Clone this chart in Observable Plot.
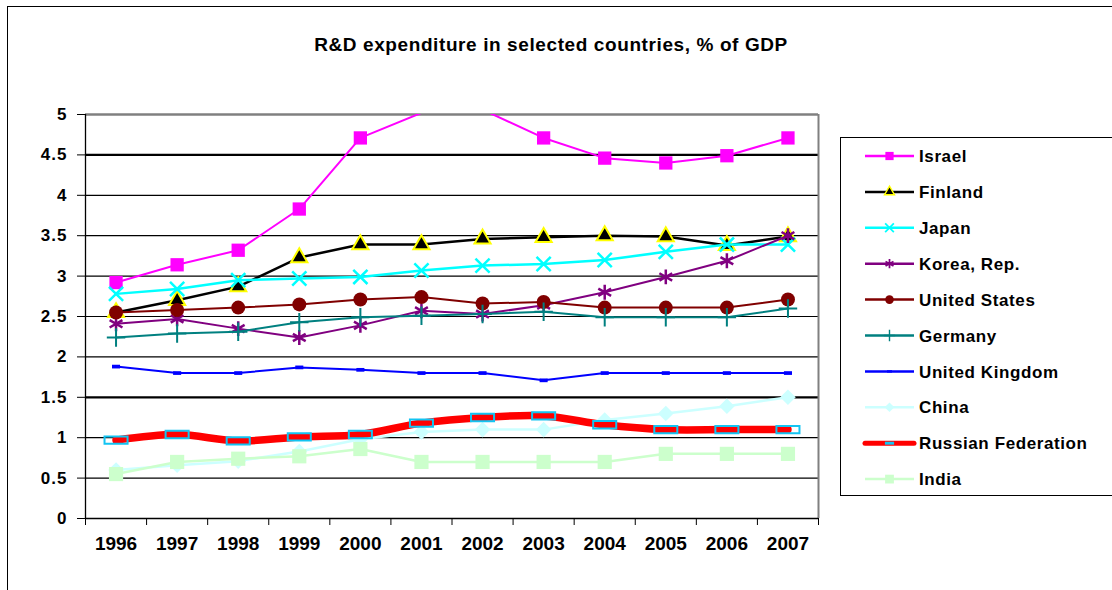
<!DOCTYPE html>
<html>
<head>
<meta charset="utf-8">
<script src="https://cdn.jsdelivr.net/npm/d3@7"></script>
<script src="https://cdn.jsdelivr.net/npm/@observablehq/plot@0.6"></script>
<style>
  html, body { margin: 0; padding: 0; background: #fff; overflow: hidden; }
  #wrap { position: relative; width: 1112px; height: 590px; overflow: hidden; font-family: "Liberation Sans", Arial, sans-serif; }
  #frame { position: absolute; left: 7px; top: 6px; width: 1200px; height: 700px; border-left: 1.5px solid #000; border-top: 1.5px solid #000; }
  #title { position: absolute; left: 0; width: 1102px; top: 34px; text-align: center; font-size: 19px; line-height: 22px; font-weight: bold; letter-spacing: 0.6px; color: #000; }
  #chart { position: absolute; left: 0; top: 0; }
  #legend { position: absolute; left: 840px; top: 137px; width: 290px; height: 357px; border: 1.5px solid #000; background: #fff; }
  .yax text { letter-spacing: 1px; }
</style>
</head>
<body>
<div id="wrap">
  <div id="frame"></div>
  <div id="chart"></div>
  <div id="title">R&amp;D expenditure in selected countries, % of GDP</div>
  <div id="legend"></div>
</div>
<script>
// ---- data ----
const years = [1996, 1997, 1998, 1999, 2000, 2001, 2002, 2003, 2004, 2005, 2006, 2007];
const israel        = [2.92, 3.14, 3.32, 3.83, 4.71, 5.02, 5.06, 4.71, 4.46, 4.40, 4.49, 4.71];
const finland       = [2.55, 2.70, 2.87, 3.23, 3.39, 3.39, 3.46, 3.48, 3.50, 3.49, 3.38, 3.49];
const japan         = [2.78, 2.84, 2.95, 2.97, 2.99, 3.07, 3.13, 3.15, 3.20, 3.30, 3.39, 3.39];
const korea         = [2.41, 2.47, 2.35, 2.24, 2.39, 2.57, 2.53, 2.64, 2.80, 2.99, 3.19, 3.50];
const unitedStates  = [2.55, 2.58, 2.61, 2.65, 2.71, 2.74, 2.66, 2.68, 2.61, 2.61, 2.61, 2.71];
const germany       = [2.24, 2.29, 2.31, 2.43, 2.49, 2.51, 2.53, 2.56, 2.49, 2.49, 2.49, 2.60];
const unitedKingdom = [1.88, 1.80, 1.80, 1.87, 1.84, 1.80, 1.80, 1.71, 1.80, 1.80, 1.80, 1.80];
const china         = [0.60, 0.66, 0.71, 0.83, 0.98, 1.07, 1.10, 1.10, 1.22, 1.30, 1.39, 1.50];
const russia        = [0.97, 1.04, 0.96, 1.01, 1.04, 1.18, 1.25, 1.27, 1.16, 1.10, 1.10, 1.10];
const india         = [0.55, 0.70, 0.74, 0.77, 0.86, 0.70, 0.70, 0.70, 0.70, 0.80, 0.80, 0.80];
const seriesNames = ["Israel", "Finland", "Japan", "Korea, Rep.", "United States", "Germany", "United Kingdom", "China", "Russian Federation", "India"];
const seriesValues = [israel, finland, japan, korea, unitedStates, germany, unitedKingdom, china, russia, india];
const yTicks = [0, 0.5, 1, 1.5, 2, 2.5, 3, 3.5, 4, 4.5, 5];
const xTickLabels = ["1996", "1997", "1998", "1999", "2000", "2001", "2002", "2003", "2004", "2005", "2006", "2007"];

// ---- custom marker shapes ----
const dashSymbol = { draw(ctx, size) { const s = Math.sqrt(size); ctx.rect(-s * 0.65, -s * 0.3, s * 1.3, s * 0.6); } };
const barSymbol  = { draw(ctx, size) { const s = Math.sqrt(size); ctx.rect(-s, -s * 0.32, s * 2, s * 0.64); } };

// ---- styles ----
const styles = [
  { line: "#FF00FF", w: 2,   symbol: "square",   r: 7.5, fill: "#FF00FF", stroke: "none" },
  { line: "#000000", w: 2.5, symbol: "triangle", r: 6,   fill: "#000000", stroke: "#FFFF00", sw: 2 },
  { line: "#00FFFF", w: 2.5, symbol: "times",    r: 6.5, fill: "none",    stroke: "#00FFFF", sw: 2.5 },
  { line: "#800080", w: 2,   symbol: "asterisk", r: 7,   fill: "none",    stroke: "#800080", sw: 2.5 },
  { line: "#800000", w: 2,   symbol: "circle",   r: 7,   fill: "#800000", stroke: "none" },
  { line: "#008080", w: 2,   symbol: "plus",     r: 6,   fill: "none",    stroke: "#008080", sw: 2 },
  { line: "#0000FF", w: 2,   symbol: dashSymbol, r: 3.5, fill: "#0000FF", stroke: "none" },
  { line: "#CCFFFF", w: 2.5, symbol: "diamond2", r: 7,   fill: "#CCFFFF", stroke: "none" },
  { line: "#FF0000", w: 7.5, symbol: barSymbol,  r: 6.5, fill: "none",    stroke: "#13C4F2", sw: 2, curve: "catmull-rom" },
  { line: "#CCFFCC", w: 2.5, symbol: "square",   r: 8,   fill: "#CCFFCC", stroke: "none" }
];

const rows = seriesNames.map((name, k) => years.map((year, i) => ({ series: name, year, value: seriesValues[k][i] })));
const bounds = d3.range(years[0] - 0.5, years[years.length - 1] + 1, 1);

const seriesMarks = rows.flatMap((data, k) => {
  const s = styles[k];
  return [
    Plot.line(data, { x: "year", y: "value", stroke: s.line, strokeWidth: s.w, curve: s.curve || "linear", clip: true, strokeLinejoin: "round", strokeLinecap: "round" }),
    Plot.dot(data, { x: "year", y: "value", filter: d => d.value <= 5, symbol: s.symbol, r: s.r, fill: s.fill, stroke: s.stroke, strokeWidth: s.sw || 1 })
  ];
});

const chart = Plot.plot({
  width: 1112,
  height: 590,
  marginLeft: 85,
  marginRight: 294,
  marginTop: 114,
  marginBottom: 72,
  x: { domain: [bounds[0], bounds[bounds.length - 1]], label: null },
  y: { domain: [0, 5], label: null },
  style: { fontFamily: "'Liberation Sans', Arial, sans-serif", fontWeight: "bold", color: "#000", background: "transparent", overflow: "visible" },
  marks: [
    Plot.ruleY(yTicks.filter(v => v > 0 && v < 5), { y: d => d, stroke: "#000", strokeWidth: d => (d === 1.5 || d === 4.5) ? 2.2 : 1.2 }),
    Plot.ruleY([5], { stroke: "#808080", strokeWidth: 2.5 }),
    Plot.ruleX([bounds[bounds.length - 1]], { stroke: "#808080", strokeWidth: 2 }),
    Plot.ruleY([0], { stroke: "#000", strokeWidth: 1.3 }),
    Plot.ruleX([bounds[0]], { stroke: "#000", strokeWidth: 1.3 }),
    Plot.axisY({ ticks: yTicks, tickSize: 8, tickPadding: 10, fontSize: 17, tickFormat: d => String(d), className: "yax" }),
    Plot.axisX({ ticks: bounds, tickSize: 7, tickFormat: () => "" }),
    Plot.axisX({ ticks: years, tickSize: 0, tickPadding: 18, fontSize: 19, tickFormat: (d) => xTickLabels[years.indexOf(d)] }),
    ...seriesMarks
  ]
});
document.getElementById("chart").appendChild(chart);

// ---- legend ----
const lg = d3.select("#legend").append("svg").attr("width", 290).attr("height", 357).style("display", "block");
seriesNames.forEach((name, k) => {
  const s = styles[k];
  const cy = 18 + k * 35.9;
  const g = lg.append("g").attr("transform", `translate(0,${cy})`);
  g.append("line").attr("x1", 24).attr("x2", 73).attr("y1", 0).attr("y2", 0)
    .attr("stroke", s.line).attr("stroke-width", k === 8 ? 5 : 2.5).attr("stroke-linecap", k === 8 ? "round" : "butt");
  const symType = typeof s.symbol === "string"
    ? ({ square: d3.symbolSquare, triangle: d3.symbolTriangle, times: d3.symbolTimes || d3.symbolX, asterisk: d3.symbolAsterisk, circle: d3.symbolCircle, plus: d3.symbolPlus, diamond2: d3.symbolDiamond2 })[s.symbol]
    : s.symbol;
  const rr = s.r * (k === 8 ? 0.4 : 0.62);
  g.append("path").attr("transform", "translate(48.5,0)")
    .attr("d", d3.symbol().type(symType).size(Math.PI * rr * rr)())
    .attr("fill", k === 8 ? "#13C4F2" : s.fill).attr("stroke", k === 8 ? "none" : s.stroke).attr("stroke-width", (s.sw || 1) * 0.7);
  g.append("text").attr("x", 78).attr("y", 0).attr("dy", "0.36em")
    .attr("font-family", "'Liberation Sans', Arial, sans-serif").attr("font-weight", "bold").attr("font-size", 17)
    .attr("letter-spacing", "0.6px").text(name);
});
</script>
</body>
</html>
